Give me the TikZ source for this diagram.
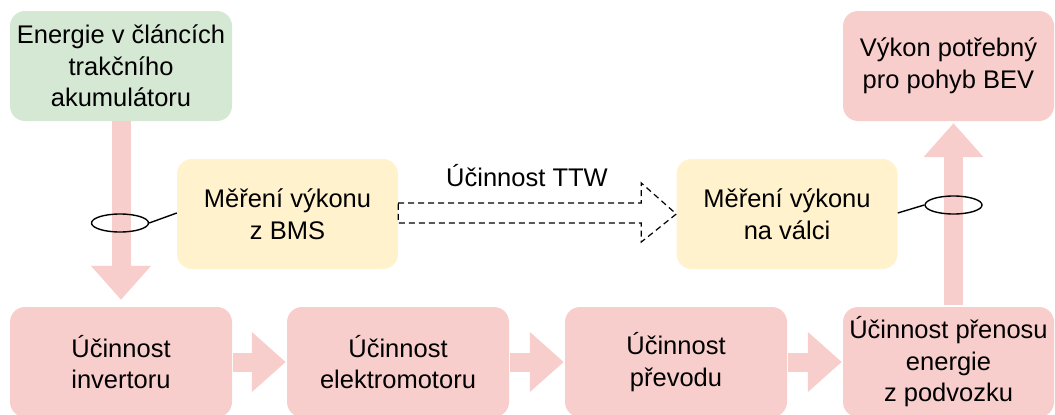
\documentclass[tikz,border=0pt]{standalone}
\usepackage{fontspec}
\setmainfont{Liberation Sans}
\usetikzlibrary{arrows.meta,calc,shapes.geometric}
\definecolor{boxgreen}{HTML}{D5E8D4}
\definecolor{boxyellow}{HTML}{FFF2CC}
\definecolor{boxpink}{HTML}{F8CECC}
\tikzset{
  stagebox/.style={rectangle, rounded corners=15pt, minimum width=222pt, minimum height=110pt,
    inner sep=0pt, align=center, font=\fontsize{25.5}{31.5}\selectfont, text=black},
  greenbox/.style={stagebox, fill=boxgreen},
  yellowbox/.style={stagebox, fill=boxyellow, minimum width=221pt},
  pinkbox/.style={stagebox, fill=boxpink},
  flow/.style={draw=boxpink, line width=19pt, line cap=butt,
    -{Triangle[width=58pt,length=34pt]}},
  probe/.style={ellipse, draw=black, line width=1.4pt, minimum width=57pt, minimum height=18pt, inner sep=0pt},
  probeline/.style={draw=black, line width=1.4pt},
  ttw/.style={draw=black, line width=1.2pt, dash pattern=on 6pt off 4pt},
}
\begin{document}
\begin{tikzpicture}[x=1pt,y=-1pt]
  \useasboundingbox (0,0) rectangle (1055,415);

  % boxes
  \node[greenbox] (battery) at (121,66) {Energie v článcích\\trakčního\\akumulátoru};
  \node[pinkbox, minimum width=211pt] (demand) at (948.5,66) {Výkon potřebný\\pro pohyb BEV};
  \node[yellowbox] (bms) at (287.5,214) {Měření výkonu\\z BMS};
  \node[yellowbox] (roller) at (787,214) {Měření výkonu\\na válci};

  \node[pinkbox] (inv) at (121,362) {Účinnost\\invertoru};
  \node[pinkbox] (motor) at (398,362) {Účinnost\\elektromotoru};
  \node[pinkbox] (gear) at (676,362) {Účinnost\\převodu};
  \node[pinkbox, minimum width=211pt] (chassis) at (948.5,362) {Účinnost přenosu\\energie\\z podvozku};

  % power flow
  \draw[flow, shorten >=7pt] (battery.south) -- (inv.north);
  \draw[flow, shorten <=1pt, shorten >=1pt] (inv.east) -- (motor.west);
  \draw[flow, shorten <=1pt, shorten >=1pt] (motor.east) -- (gear.west);
  \draw[flow, shorten <=1pt, shorten >=1pt] (gear.east) -- (chassis.west);
  \draw[flow, shorten <=2pt, shorten >=2pt] ($(chassis.north)+(5,0)$) -- ($(demand.south)+(5,0)$);

  % measurement points
  \node[probe] (p1) at (120,223) {};
  \draw[probeline] (p1.east) -- ($(bms.west)+(0,-1)$);
  \node[probe] (p2) at (953.5,205) {};
  \draw[probeline] (p2.west) -- ($(roller.east)+(0,-1)$);

  % tank-to-wheel efficiency
  \draw[ttw] ($(bms.east)+(0,-11)$) -- ($(roller.west)+(-35,-11)$)
    -- ($(roller.west)+(-35,-31)$) -- (roller.west)
    -- ($(roller.west)+(-35,28)$) -- ($(roller.west)+(-35,9)$)
    -- ($(bms.east)+(0,9)$) -- cycle;
  \node[font=\fontsize{25.5}{31.5}\selectfont, anchor=center] (ttwlabel) at (527,176) {Účinnost TTW};
\end{tikzpicture}
\end{document}
